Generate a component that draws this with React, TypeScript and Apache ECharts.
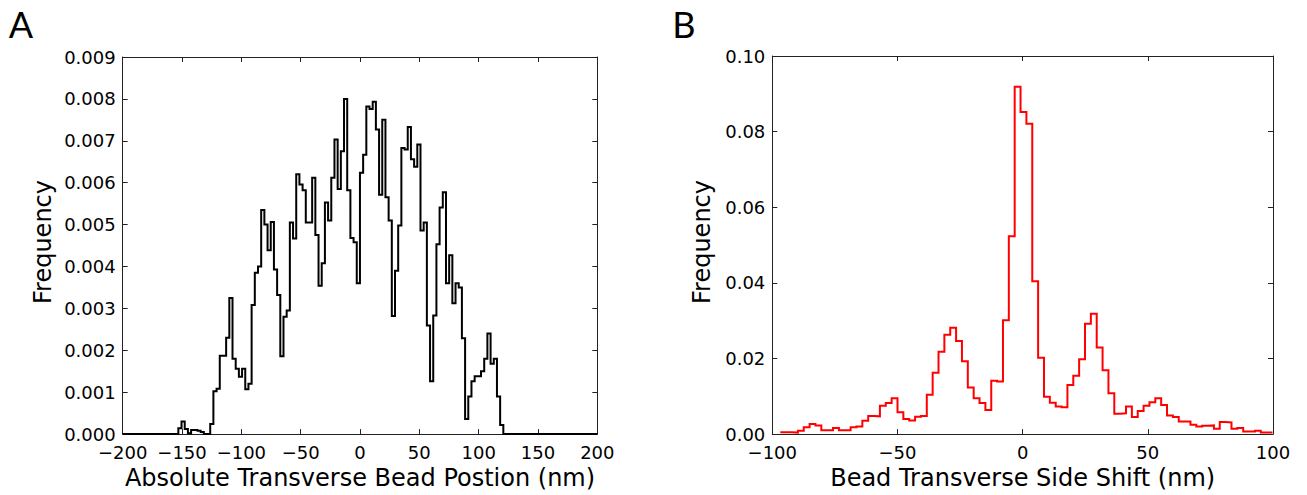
import React, { useEffect, useRef } from "react";
import * as echarts from "echarts";

// Panel A: absolute transverse bead position histogram (nm)
const positionStart = -153.1;
const positionEnd = 120.8;
const positionFreq = [
  0.00014, 0.0003, 0.00012, 0.00002, 0.0001, 0.0001, 0.00008, 0.00005, 0, 0,
  0.00024, 0.00102, 0.00108, 0.00187, 0.00187, 0.0023, 0.00325, 0.0018, 0.00156, 0.00137,
  0.00156, 0.00107, 0.0012, 0.00308, 0.00385, 0.004, 0.00535, 0.005, 0.00439, 0.00506,
  0.00393, 0.00332, 0.00186, 0.0028, 0.00295, 0.00505, 0.00467, 0.0062, 0.00596, 0.00582,
  0.00505, 0.00505, 0.00612, 0.00475, 0.00354, 0.00408, 0.00553, 0.0051, 0.00612, 0.00703,
  0.00585, 0.00675, 0.008, 0.00582, 0.00468, 0.00458, 0.0036, 0.00624, 0.00667, 0.00782,
  0.00776, 0.00793, 0.00727, 0.00571, 0.0075, 0.00565, 0.0051, 0.00282, 0.0039, 0.00498,
  0.00683, 0.00679, 0.00733, 0.00656, 0.00638, 0.00691, 0.00486, 0.00505, 0.00259, 0.00126,
  0.00283, 0.00453, 0.00541, 0.00577, 0.0036, 0.00427, 0.00312, 0.0036, 0.0035, 0.00229,
  0.00036, 0.0009, 0.00126, 0.00138, 0.00138, 0.0015, 0.0018, 0.0024, 0.00168, 0.0018,
  0.0009, 0.00022,
];

// Panel B: bead transverse side shift histogram (nm)
const shiftStart = -96.8;
const shiftEnd = 99.8;
const shiftFreq = [
  0.0005, 0.0005, 0.0004, 0.0009, 0.0018, 0.0027, 0.0023, 0.001, 0.001, 0.0016,
  0.001, 0.001, 0.0018, 0.002, 0.0035, 0.0048, 0.0047, 0.0075, 0.0082, 0.0095,
  0.0058, 0.004, 0.0036, 0.0046, 0.0048, 0.0104, 0.0162, 0.0218, 0.0263, 0.0281,
  0.0246, 0.0193, 0.0123, 0.0095, 0.0082, 0.0064, 0.0141, 0.0139, 0.0301, 0.0523,
  0.0919, 0.0852, 0.0821, 0.0404, 0.0202, 0.0099, 0.0083, 0.0073, 0.0071, 0.013,
  0.0154, 0.0198, 0.0292, 0.0318, 0.0229, 0.0169, 0.0108, 0.0054, 0.0055, 0.0073,
  0.0045, 0.0061, 0.0075, 0.0084, 0.0095, 0.0077, 0.0049, 0.0045, 0.0033, 0.0033,
  0.0025, 0.002, 0.0022, 0.0023, 0.0014, 0.0032, 0.0031, 0.0014, 0.0016, 0.0007,
  0.0007, 0.0009, 0.0004, 0.0004,
];

const xRangeA = [-200, 200, 50];
const yRangeA = [0, 0.009, 0.001];
const xRangeB = [-100, 100, 50];
const yRangeB = [0, 0.1, 0.02];

const titleA = "Absolute Transverse Bead Postion (nm)";
const titleB = "Bead Transverse Side Shift (nm)";
const yTitle = "Frequency";

function stepPoints(start: number, end: number, vals: number[], padMin?: number, padMax?: number) {
  const w = (end - start) / vals.length;
  const pts: number[][] = [];
  if (padMin !== undefined) {
    pts.push([padMin, 0]);
    pts.push([start, 0]);
  }
  vals.forEach((v, i) => {
    pts.push([start + i * w, v]);
    pts.push([start + (i + 1) * w, v]);
  });
  if (padMax !== undefined) {
    pts.push([end, 0]);
    pts.push([padMax, 0]);
  }
  return pts;
}

const FONT = "DejaVu Sans";
const AXIS_COLOR = "#222";
const TITLE_SIZE = 24;

const minus = (s: string) => s.replace("-", "\u2212");

function xAxisDef(grid: number, r: number[], top: boolean, name?: string) {
  return {
    type: "value",
    gridIndex: grid,
    position: top ? "top" : "bottom",
    min: r[0],
    max: r[1],
    interval: r[2],
    axisLine: { show: true, onZero: false, lineStyle: { color: AXIS_COLOR, width: 1 } },
    axisTick: { show: true, inside: true, length: 5, lineStyle: { color: AXIS_COLOR, width: 1 } },
    splitLine: { show: false },
    axisLabel: top
      ? { show: false }
      : {
          show: true,
          margin: 9,
          color: "#000",
          fontSize: 18,
          fontFamily: FONT,
          formatter: (v: number) => minus(String(Math.round(v))),
        },
    name: top ? undefined : name,
    nameLocation: "middle",
    nameGap: 29,
    nameTextStyle: { color: "#000", fontSize: TITLE_SIZE, fontFamily: FONT },
  };
}

function yAxisDef(grid: number, r: number[], right: boolean, decimals: number) {
  return {
    type: "value",
    gridIndex: grid,
    position: right ? "right" : "left",
    min: r[0],
    max: r[1],
    interval: r[2],
    axisLine: { show: true, onZero: false, lineStyle: { color: AXIS_COLOR, width: 1 } },
    axisTick: { show: true, inside: true, length: 5, lineStyle: { color: AXIS_COLOR, width: 1 } },
    splitLine: { show: false },
    axisLabel: right
      ? { show: false }
      : {
          show: true,
          margin: 7,
          color: "#000",
          fontSize: 18,
          fontFamily: FONT,
          formatter: (v: number) => v.toFixed(decimals),
        },
  };
}

export default function App() {
  const ref = useRef<HTMLDivElement>(null);
  useEffect(() => {
    if (!ref.current) return;
    const chart = echarts.init(ref.current, undefined, { renderer: "svg" });
    chart.setOption({
      animation: false,
      backgroundColor: "#fff",
      grid: [
        { left: 122.7, top: 57, width: 474.6, height: 379.7 },
        { left: 772.3, top: 56, width: 500.7, height: 380.3 },
      ],
      xAxis: [
        xAxisDef(0, xRangeA, false, titleA),
        xAxisDef(0, xRangeA, true),
        xAxisDef(1, xRangeB, false, titleB),
        xAxisDef(1, xRangeB, true),
      ],
      yAxis: [
        yAxisDef(0, yRangeA, false, 3),
        yAxisDef(0, yRangeA, true, 3),
        yAxisDef(1, yRangeB, false, 2),
        yAxisDef(1, yRangeB, true, 2),
      ],
      series: [
        {
          type: "line",
          xAxisIndex: 0,
          yAxisIndex: 0,
          data: stepPoints(positionStart, positionEnd, positionFreq, xRangeA[0], xRangeA[1]),
          showSymbol: false,
          symbol: "none",
          lineStyle: { color: "#000", width: 2, join: "miter" },
          z: 5,
        },
        {
          type: "line",
          xAxisIndex: 2,
          yAxisIndex: 2,
          data: stepPoints(shiftStart, shiftEnd, shiftFreq),
          showSymbol: false,
          symbol: "none",
          lineStyle: { color: "#ff0000", width: 2, join: "miter" },
          z: 5,
        },
      ],
      graphic: [
        {
          type: "text",
          x: 43,
          y: 242,
          rotation: Math.PI / 2,
          style: { text: yTitle, align: "center", verticalAlign: "middle", fontSize: TITLE_SIZE, fontFamily: FONT, fill: "#000" },
        },
        {
          type: "text",
          x: 702,
          y: 242,
          rotation: Math.PI / 2,
          style: { text: yTitle, align: "center", verticalAlign: "middle", fontSize: TITLE_SIZE, fontFamily: FONT, fill: "#000" },
        },
        {
          type: "text",
          x: 21,
          y: 24,
          style: { text: "A", align: "center", verticalAlign: "middle", fontSize: 36, fontFamily: "Lato", fill: "#000" },
        },
        {
          type: "text",
          x: 684,
          y: 24,
          style: { text: "B", align: "center", verticalAlign: "middle", fontSize: 36, fontFamily: "Lato", fill: "#000" },
        },
      ],
    });
    return () => chart.dispose();
  }, []);
  return (
    <div
      ref={ref}
      style={{ position: "absolute", left: 0, top: 0, width: 1307, height: 495 }}
    />
  );
}
